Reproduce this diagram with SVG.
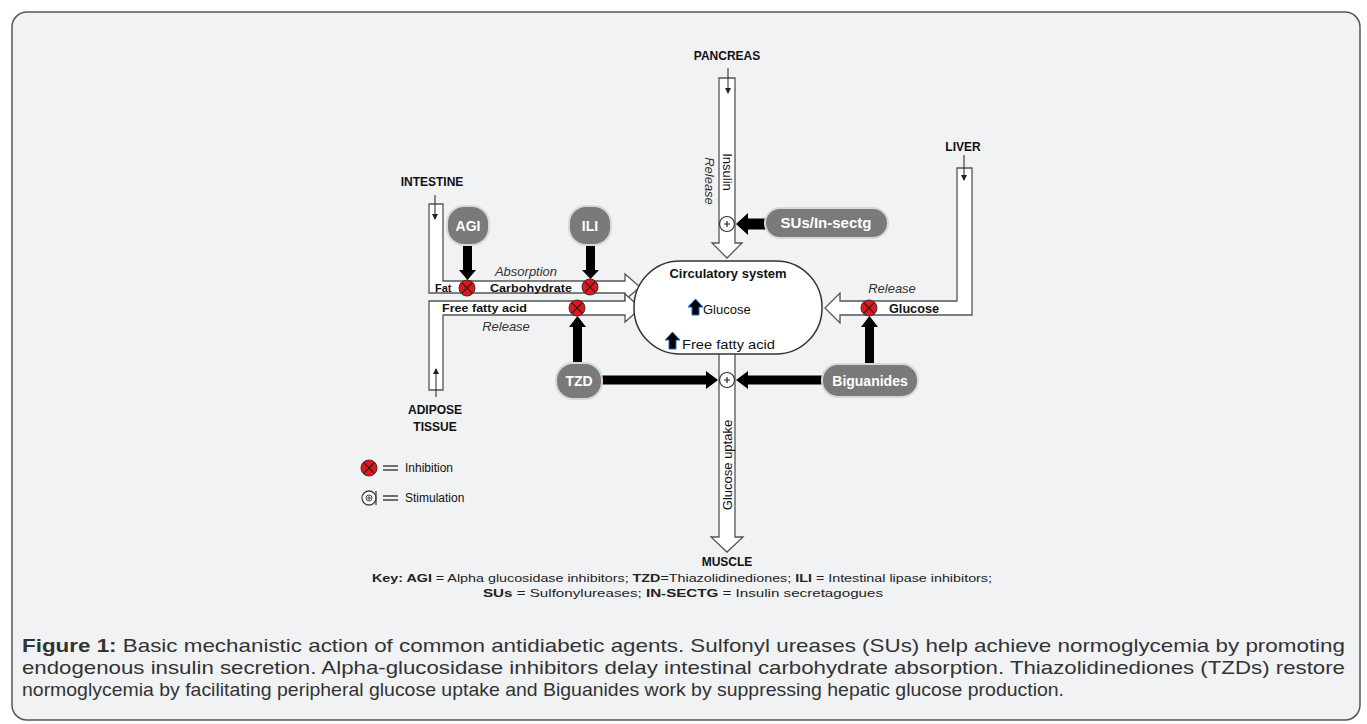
<svg xmlns="http://www.w3.org/2000/svg" width="1367" height="724" viewBox="0 0 1367 724">
<defs>
<style>
.lbl{font-family:"Liberation Sans",Arial,sans-serif;font-weight:bold;font-size:12px;fill:#111;text-anchor:middle}
.pipe{fill:#fff;stroke:#555;stroke-width:1.3}
.thin{stroke:#222;stroke-width:1;fill:none}
.blk{fill:#000}
.pill{fill:#7a7a7a;stroke:#d8d8d8;stroke-width:2}
.ptxt{font-family:"Liberation Sans",Arial,sans-serif;font-weight:bold;font-size:14px;fill:#fff;text-anchor:middle}
.it{font-family:"Liberation Sans",Arial,sans-serif;font-style:italic;font-size:13px;fill:#333;text-anchor:middle}
.sm{font-family:"Liberation Sans",Arial,sans-serif;font-weight:bold;font-size:11px;fill:#111}
.reg{font-family:"Liberation Sans",Arial,sans-serif;font-size:13px;fill:#111}
.cap{font-family:"Liberation Sans Narrow","Liberation Sans",Arial,sans-serif;font-size:19px;fill:#333}
.key{font-family:"Liberation Sans Narrow","Liberation Sans",Arial,sans-serif;font-size:11.5px;fill:#222}
</style>
<g id="inh">
<circle r="8" fill="#e5141b" stroke="#333" stroke-width="1"/>
<path d="M-5,-5 L5,5 M5,-5 L-5,5" stroke="#222" stroke-width="1.2"/>
</g>
<g id="stim">
<circle r="7.5" fill="#fff" stroke="#333" stroke-width="1.2"/>
<path d="M-3,0 L3,0 M0,-3 L0,3" stroke="#222" stroke-width="1.2"/>
</g>
<marker id="sa" markerWidth="6" markerHeight="6" refX="5" refY="3" orient="auto" markerUnits="userSpaceOnUse">
<path d="M0,0 L6,3 L0,6 Z" fill="#222"/>
</marker>
</defs>

<rect x="0" y="0" width="1367" height="724" fill="#fff"/>
<rect x="12" y="12" width="1348" height="708" rx="15" fill="#f1f2f4" stroke="#555" stroke-width="1.5"/>

<g id="connectors">
<path class="pipe" d="M429,204 L443,204 L443,281 L625,281 L625,274 L640,287 L625,300 L625,293 L429,293 Z"/>
<path class="pipe" d="M429,301 L625,301 L625,294 L641,308 L625,322 L625,315 L443,315 L443,390 L429,390 Z"/>
<path class="pipe" d="M957,168 L972,168 L972,315 L840,315 L840,323 L825,308 L840,293 L840,301 L957,301 Z"/>
<path class="pipe" d="M719,78 L735,78 L735,243 L742,243 L727,258 L712,243 L719,243 Z"/>
<path class="pipe" d="M719,352 L735,352 L735,537 L743,537 L727,552 L711,537 L719,537 Z"/>
<line class="thin" x1="435" y1="195" x2="435" y2="219" marker-end="url(#sa)"/>
<line class="thin" x1="728" y1="68" x2="728" y2="93" marker-end="url(#sa)"/>
<line class="thin" x1="964" y1="155" x2="964" y2="180" marker-end="url(#sa)"/>
<line class="thin" x1="436" y1="397" x2="436" y2="369" marker-end="url(#sa)"/>
<path class="blk" d="M463,245 L472,245 L472,270 L476,270 L467.5,280 L459,270 L463,270 Z"/>
<path class="blk" d="M586,245 L595,245 L595,270 L599,270 L590.5,279 L582,270 L586,270 Z"/>
<path class="blk" d="M573,364 L582,364 L582,327 L586,327 L577.5,316 L569,327 L573,327 Z"/>
<path class="blk" d="M865,364 L874,364 L874,327 L878,327 L869.5,316 L861,327 L865,327 Z"/>
<path class="blk" d="M601,375.5 L706,375.5 L706,371 L718,380 L706,389 L706,384.5 L601,384.5 Z"/>
<path class="blk" d="M823,375.5 L748,375.5 L748,371 L736,380 L748,389 L748,384.5 L823,384.5 Z"/>
<path class="blk" d="M766,218.5 L748,218.5 L748,213 L736,224 L748,235 L748,229.5 L766,229.5 Z"/>
</g>

<g id="circulatory">
<rect x="634" y="261" width="188" height="93" rx="46" ry="46" fill="#fff" stroke="#333" stroke-width="1.5"/>
<text x="728" y="278" class="reg" style="font-weight:bold" text-anchor="middle">Circulatory system</text>
<path d="M695.5,299 L703,307 L699,307 L699,315 L692,315 L692,307 L688,307 Z" fill="#000" stroke="#1b6fc4" stroke-width="1"/>
<text x="703" y="314" class="reg">Glucose</text>
<path d="M672.5,332 L680,340 L676,340 L676,349 L669,349 L669,340 L665,340 Z" fill="#000" stroke="#1b6fc4" stroke-width="1"/>
<text x="682" y="349" class="reg" textLength="93" lengthAdjust="spacingAndGlyphs">Free fatty acid</text>
</g>

<g id="pancreas">
<text x="727" y="60" class="lbl">PANCREAS</text>
<text transform="translate(723,172) rotate(90)" class="reg" text-anchor="middle">Insulin</text>
<text transform="translate(705,181) rotate(90)" class="it">Release</text>
<use href="#stim" x="727" y="224"/>
</g>

<g id="sus">
<rect class="pill" x="765" y="208" width="123" height="30" rx="15"/>
<text x="826" y="228" class="ptxt" style="font-size:15px">SUs/In-sectg</text>
</g>

<g id="intestine">
<text x="432" y="186" class="lbl">INTESTINE</text>
<text x="526" y="276" class="it">Absorption</text>
<text x="435" y="292" class="sm">Fat</text>
<text x="490" y="292" class="sm" textLength="82" lengthAdjust="spacingAndGlyphs">Carbohydrate</text>
<use href="#inh" x="467" y="288"/>
<use href="#inh" x="590" y="287"/>
</g>

<g id="adipose">
<text x="442" y="312" class="sm" textLength="85" lengthAdjust="spacingAndGlyphs">Free fatty acid</text>
<text x="506" y="331" class="it">Release</text>
<use href="#inh" x="577" y="308"/>
<text x="435" y="414" class="lbl">ADIPOSE</text>
<text x="435" y="431" class="lbl">TISSUE</text>
</g>

<g id="agi">
<rect class="pill" x="447" y="206" width="42" height="39" rx="17"/>
<text x="468" y="231" class="ptxt">AGI</text>
</g>
<g id="ili">
<rect class="pill" x="569" y="206" width="42" height="39" rx="17"/>
<text x="590" y="231" class="ptxt">ILI</text>
</g>
<g id="tzd">
<rect class="pill" x="556" y="363" width="46" height="36" rx="17"/>
<text x="579" y="386" class="ptxt">TZD</text>
</g>
<g id="biguanides">
<rect class="pill" x="822" y="364" width="96" height="33" rx="16"/>
<text x="870" y="386" class="ptxt">Biguanides</text>
</g>

<g id="liver">
<text x="963" y="151" class="lbl">LIVER</text>
<text x="892" y="293" class="it">Release</text>
<text x="889" y="313" class="sm" style="font-size:12.5px" textLength="50" lengthAdjust="spacingAndGlyphs">Glucose</text>
<use href="#inh" x="869" y="308"/>
</g>

<g id="muscle">
<use href="#stim" x="727" y="380"/>
<text transform="translate(732,465) rotate(-90)" class="reg" text-anchor="middle">Glucose uptake</text>
<text x="727" y="566" class="lbl">MUSCLE</text>
</g>

<g id="legend">
<use href="#inh" x="369" y="468"/>
<path d="M383,466 L398,466 M383,470 L398,470" stroke="#444" stroke-width="1.5"/>
<text x="405" y="472" class="reg" style="font-size:12px">Inhibition</text>
<circle cx="369" cy="498" r="7" fill="#fff" stroke="#444" stroke-width="1.3"/>
<path d="M367,498 L371,498 M369,496 L369,500" stroke="#444" stroke-width="1"/>
<circle cx="369" cy="498" r="3" fill="none" stroke="#444" stroke-width="1"/>
<path d="M376,491 L376,505" stroke="#444" stroke-width="1.3"/>
<path d="M383,496 L398,496 M383,500 L398,500" stroke="#444" stroke-width="1.5"/>
<text x="405" y="502" class="reg" style="font-size:12px">Stimulation</text>
</g>

<g id="key">
<text x="372" y="582" class="key" textLength="620" lengthAdjust="spacingAndGlyphs"><tspan font-weight="bold">Key: AGI</tspan> = Alpha glucosidase inhibitors;  <tspan font-weight="bold">TZD</tspan>=Thiazolidinediones; <tspan font-weight="bold">ILI</tspan> = Intestinal lipase inhibitors;</text>
<text x="483" y="597" class="key" textLength="400" lengthAdjust="spacingAndGlyphs"><tspan font-weight="bold">SUs</tspan> = Sulfonylureases; <tspan font-weight="bold">IN-SECTG</tspan> = Insulin secretagogues</text>
</g>

<g id="caption">
<text x="22" y="652" class="cap" textLength="1323" lengthAdjust="spacingAndGlyphs"><tspan font-weight="bold">Figure 1:</tspan> Basic mechanistic action of common antidiabetic agents. Sulfonyl ureases (SUs) help achieve normoglycemia by promoting</text>
<text x="22" y="674" class="cap" textLength="1323" lengthAdjust="spacingAndGlyphs">endogenous insulin secretion. Alpha-glucosidase inhibitors delay intestinal carbohydrate absorption. Thiazolidinediones (TZDs) restore</text>
<text x="22" y="696" class="cap" textLength="1042" lengthAdjust="spacingAndGlyphs">normoglycemia by facilitating peripheral glucose uptake and Biguanides work by suppressing hepatic glucose production.</text>
</g>
</svg>
